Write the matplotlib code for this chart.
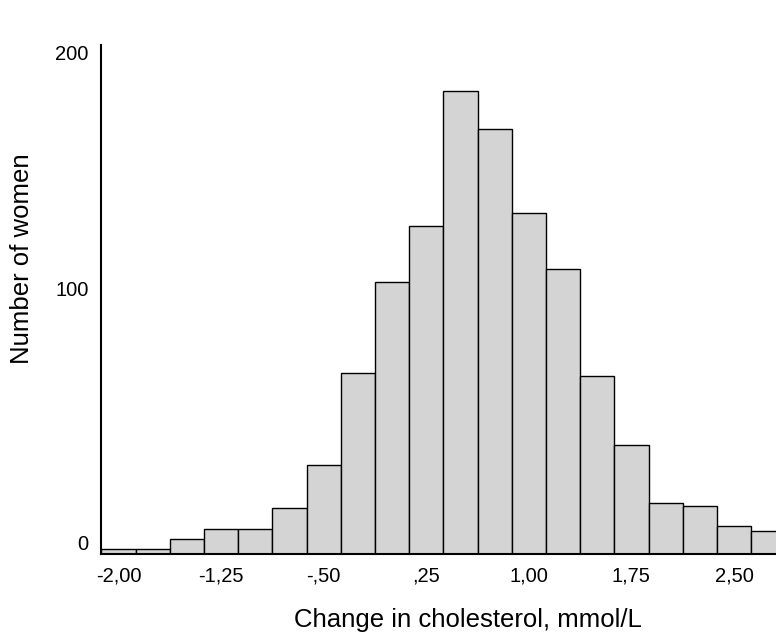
#!/usr/bin/env python3
"""Histogram: change in cholesterol among women (SPSS-style)."""
import matplotlib
matplotlib.use('Agg')
import matplotlib.pyplot as plt

# bin centres (mmol/L) and number of women in each 0.25-wide bin
bin_centers = [-2.00, -1.75, -1.50, -1.25, -1.00, -0.75, -0.50, -0.25, 0.00, 0.25,
               0.50, 0.75, 1.00, 1.25, 1.50, 1.75, 2.00, 2.25, 2.50, 2.75]
counts = [2, 2, 6, 10, 10, 18, 35, 71, 107, 129,
          182, 167, 134, 112, 70, 43, 20, 19, 11, 9]
bin_width = 0.25

xtick_vals = [-2.00, -1.25, -0.50, 0.25, 1.00, 1.75, 2.50]
xtick_labels = ['-2,00', '-1,25', '-,50', ',25', '1,00', '1,75', '2,50']
ytick_vals = [0, 100, 200]
ytick_labels = ['0', '100', '200']

plt.rcParams['font.family'] = ['Liberation Sans', 'DejaVu Sans']

fig = plt.figure(figsize=(7.76, 6.34), dpi=100)
ax = fig.add_axes([101/776, 80/634, 675/776, 509/634])

ax.bar(bin_centers, counts, width=bin_width, align='center',
       color='#d4d4d4', edgecolor='black', linewidth=1.0)

ax.set_xlim(-2.128, 2.807)
ax.set_ylim(0, 200)

for s in ['top', 'right']:
    ax.spines[s].set_visible(False)
for s in ['left', 'bottom']:
    ax.spines[s].set_linewidth(1.5)
    ax.spines[s].set_color('black')

ax.set_xticks(xtick_vals)
ax.set_xticklabels(xtick_labels, fontsize=14.5)
ax.set_yticks(ytick_vals)
ax.set_yticklabels(ytick_labels, fontsize=14.5)
ax.tick_params(axis='x', length=0, pad=9)
ax.tick_params(axis='y', length=0, pad=9)
# SPSS puts the labels beside the gridline position, not centred on it
for lab, v in zip(ax.get_yticklabels(), ytick_vals):
    lab.set_verticalalignment('top' if v == 200 else 'bottom')

fig.text(468/776, 7/634, 'Change in cholesterol, mmol/L', fontsize=18.5,
         ha='center', va='baseline')
fig.text(22/776, (634-259)/634, 'Number of women', fontsize=18.5,
         rotation=90, ha='center', va='center')

fig.savefig('out.png', dpi=100)
plt.close(fig)
